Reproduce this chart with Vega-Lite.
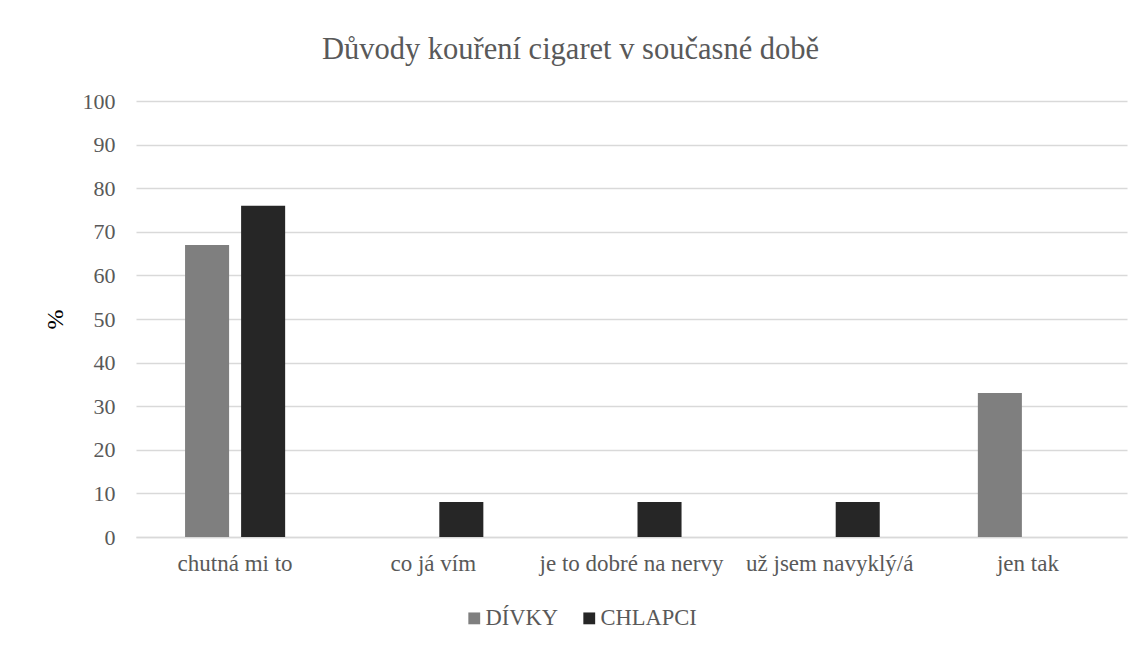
{
  "$schema": "https://vega.github.io/schema/vega-lite/v6.json",
  "autosize": {"type": "none"},
  "width": 991,
  "height": 436,
  "padding": {"left": 136, "top": 101, "right": 16, "bottom": 112},
  "background": "white",
  "title": {
    "text": "Důvody kouření cigaret v současné době",
    "anchor": "middle",
    "frame": "group",
    "dx": -61,
    "offset": 25,
    "font": "Liberation Serif",
    "fontSize": 30.5,
    "fontWeight": "normal",
    "color": "#595959"
  },
  "data": {
    "values": [
      {"duvod": "chutná mi to", "skupina": "DÍVKY", "procento": 67},
      {"duvod": "chutná mi to", "skupina": "CHLAPCI", "procento": 76},
      {"duvod": "co já vím", "skupina": "DÍVKY", "procento": 0},
      {"duvod": "co já vím", "skupina": "CHLAPCI", "procento": 8},
      {"duvod": "je to dobré na nervy", "skupina": "DÍVKY", "procento": 0},
      {"duvod": "je to dobré na nervy", "skupina": "CHLAPCI", "procento": 8},
      {"duvod": "už jsem navyklý/á", "skupina": "DÍVKY", "procento": 0},
      {"duvod": "už jsem navyklý/á", "skupina": "CHLAPCI", "procento": 8},
      {"duvod": "jen tak", "skupina": "DÍVKY", "procento": 33},
      {"duvod": "jen tak", "skupina": "CHLAPCI", "procento": 0}
    ]
  },
  "mark": {"type": "bar"},
  "encoding": {
    "x": {
      "field": "duvod",
      "type": "nominal",
      "sort": null,
      "scale": {"paddingInner": 0.495, "paddingOuter": 0.2475},
      "axis": {
        "title": null,
        "labelAngle": 0,
        "labelFont": "Liberation Serif",
        "labelFontSize": 23,
        "labelColor": "#595959",
        "labelPadding": 15,
        "labelLimit": 0,
        "labelOverlap": false,
        "ticks": false,
        "domain": true,
        "domainColor": "#d9d9d9",
        "domainWidth": 1.5
      }
    },
    "xOffset": {
      "field": "skupina",
      "type": "nominal",
      "sort": ["DÍVKY", "CHLAPCI"],
      "scale": {"paddingInner": 0.2143, "paddingOuter": 0}
    },
    "y": {
      "field": "procento",
      "type": "quantitative",
      "scale": {"domain": [0, 100]},
      "axis": {
        "title": "%",
        "titleFont": "Liberation Serif",
        "titleFontSize": 24,
        "titleFontWeight": "normal",
        "titleColor": "#000000",
        "titlePadding": 15,
        "values": [0, 10, 20, 30, 40, 50, 60, 70, 80, 90, 100],
        "labelFont": "Liberation Serif",
        "labelFontSize": 22,
        "labelColor": "#595959",
        "labelPadding": 21,
        "ticks": false,
        "domain": false,
        "grid": true,
        "gridColor": "#d9d9d9",
        "gridWidth": 1.5
      }
    },
    "color": {
      "field": "skupina",
      "type": "nominal",
      "sort": ["DÍVKY", "CHLAPCI"],
      "scale": {"domain": ["DÍVKY", "CHLAPCI"], "range": ["#7f7f7f", "#262626"]},
      "legend": {
        "title": null,
        "orient": "none",
        "direction": "horizontal",
        "legendX": 327,
        "legendY": 506,
        "symbolType": "square",
        "symbolSize": 140,
        "symbolStrokeWidth": 0,
        "labelFont": "Liberation Serif",
        "labelFontSize": 22.5,
        "labelColor": "#595959",
        "labelOffset": 0,
        "columnPadding": 20
      }
    }
  },
  "config": {
    "view": {"stroke": null}
  }
}
